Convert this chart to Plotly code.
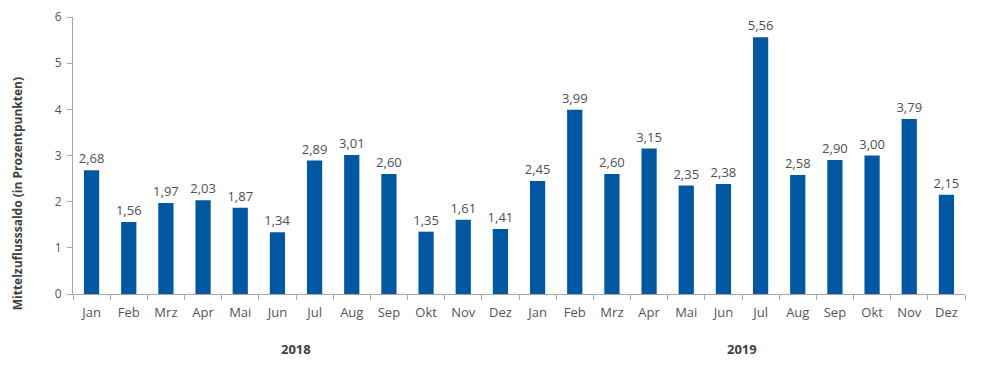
import plotly.graph_objects as go

months = ["Jan", "Feb", "Mrz", "Apr", "Mai", "Jun", "Jul", "Aug", "Sep", "Okt", "Nov", "Dez"]
years = ["2018", "2019"]
values_2018 = [2.68, 1.56, 1.97, 2.03, 1.87, 1.34, 2.89, 3.01, 2.60, 1.35, 1.61, 1.41]
values_2019 = [2.45, 3.99, 2.60, 3.15, 2.35, 2.38, 5.56, 2.58, 2.90, 3.00, 3.79, 2.15]
y_title = "Mittelzuflusssaldo (in Prozentpunkten)"

cats = [f"{m} {y}" for y in years for m in months]
ticktext = months * len(years)
values = values_2018 + values_2019

FONT = "Open Sans, sans-serif"

fig = go.Figure(go.Bar(
    x=cats, y=values,
    marker=dict(color="#0058a3", line=dict(width=0)),
    width=0.41,
    texttemplate="%{y:.2f}", textposition="outside", constraintext="none",
    textfont=dict(family=FONT, size=13, color="#505050"),
    cliponaxis=False,
))

for i, yr in enumerate(years):
    fig.add_annotation(x=i * 12 + 5.5, y=-0.2, xref="x", yref="paper", text=f"<b>{yr}</b>",
                       showarrow=False, font=dict(family=FONT, size=13, color="#404040"),
                       yanchor="middle")

fig.add_annotation(x=0, xref="paper", xshift=-56, y=0.36, yref="paper", text=f"<b>{y_title}</b>",
                   textangle=-90, showarrow=False, xanchor="center", yanchor="middle",
                   font=dict(family=FONT, size=12, color="#404040"))

fig.update_layout(
    width=982, height=367,
    margin=dict(l=73, r=17, t=17, b=73),
    paper_bgcolor="white", plot_bgcolor="white",
    separators=",.",
    showlegend=False,
    font=dict(family=FONT, size=12, color="#555"),
)
fig.update_xaxes(
    type="category", categoryorder="array", categoryarray=cats,
    tickvals=cats, ticktext=ticktext, tickson="boundaries",
    ticks="outside", ticklen=5, tickcolor="#a8a8a8", tickwidth=1,
    showline=True, linecolor="#a8a8a8", linewidth=1, showgrid=False,
    tickfont=dict(family=FONT, size=13, color="#555"), ticklabelstandoff=6,
    range=[-0.5, 23.5], automargin=False,
)
fig.update_yaxes(
    range=[0, 6], dtick=1, ticks="outside", ticklen=5, tickcolor="#a8a8a8",
    showline=True, linecolor="#a8a8a8", linewidth=1, showgrid=False, zeroline=False,
    tickfont=dict(family=FONT, size=12, color="#555"), ticklabelstandoff=3, automargin=False,
)

fig.write_html("out.html", config={"displayModeBar": False},
               post_script="document.body.style.margin='0';")
